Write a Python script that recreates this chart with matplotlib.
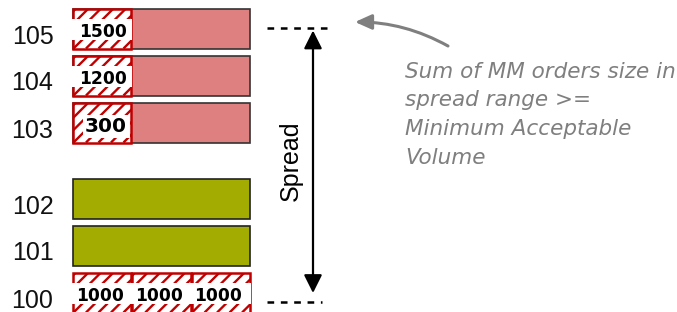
import matplotlib
matplotlib.use("Agg")
import numpy as np
import matplotlib.pyplot as plt
from matplotlib.patches import FancyArrowPatch

# ---- data ----
price_levels = [100, 101, 102, 103, 104, 105]
level_labels = ["100", "101", "102", "103", "104", "105"]
ask_levels = [103, 104, 105]
ask_mm_sizes = [300, 1200, 1500]
bid_levels = [101, 102]
bid_mm_level = 100
bid_mm_sizes = [1000, 1000, 1000]
spread_range = (100, 105)
spread_label = "Spread"
note_lines = ["Sum of MM orders size in", "spread range >=",
              "Minimum Acceptable", "Volume"]

# ---- style ----
ASK_COLOR = "#DF8080"
BID_COLOR = "#A3AC00"
MM_RED = "#C00000"
NOTE_GRAY = "#7F7F7F"

W, H = 677, 312
fig = plt.figure(figsize=(W / 100, H / 100), dpi=100)
ax = fig.add_axes([0, 0, 1, 1])
ax.set_xlim(0, W)
ax.set_ylim(H, 0)
ax.axis("off")

ROW_PITCH = 47
SPREAD_GAP = 29
BASE = 292.5
BAR_LEFT, BAR_W, BAR_H = 73, 177, 40
BOX_W = 59.3
STRIPE_STEP = 12.5


def ypos(p):
    return BASE - (p - 100) * ROW_PITCH - (SPREAD_GAP if p >= 103 else 0)


# level labels
for p, lab in zip(price_levels, level_labels):
    ax.text(32.5, ypos(p) + 15, lab, ha="center", va="baseline",
            fontsize=18, family="Liberation Sans", color="#111111")

# full-width bars
for p in ask_levels:
    ax.barh(ypos(p), BAR_W, left=BAR_LEFT, height=BAR_H, color=ASK_COLOR,
            edgecolor="#333333", linewidth=1.2)
for p in bid_levels:
    ax.barh(ypos(p), BAR_W, left=BAR_LEFT, height=BAR_H, color=BID_COLOR,
            edgecolor="#222222", linewidth=1.2)


def mm_box(p, i, size, dx=0.0):
    y = ypos(p)
    left = BAR_LEFT + i * BOX_W
    rect = ax.barh(y, BOX_W - 1, left=left, height=BAR_H, facecolor="white",
                   edgecolor=MM_RED, linewidth=1.8, zorder=2)[0]
    # diagonal red stripes clipped to the box
    for x0 in np.arange(left - BAR_H + 3, left + BOX_W, STRIPE_STEP):
        ln, = ax.plot([x0, x0 + BAR_H], [y + BAR_H / 2, y - BAR_H / 2],
                      color=MM_RED, lw=1.7, zorder=2.5,
                      solid_capstyle="butt")
        ln.set_clip_path(rect)
    lab = str(size)
    if len(lab) >= 4:
        ax.barh(y + 0.5, BOX_W + 1, left=left - 1, height=21, color="white",
                linewidth=0, zorder=3)
        ax.text(left + BOX_W / 2 + dx, y + 8.5, lab, ha="center",
                va="baseline", fontsize=12.3, fontweight="bold",
                family="DejaVu Sans", color="black", zorder=4)
    else:
        ax.text(left + BOX_W / 2 + dx, y + 9.5, lab, ha="center",
                va="baseline", fontsize=14.5, fontweight="bold",
                family="DejaVu Sans", color="black", zorder=4,
                bbox=dict(boxstyle="square,pad=0.12", facecolor="white",
                          edgecolor="none"))


for p, s in zip(ask_levels, ask_mm_sizes):
    mm_box(p, 0, s, dx=3.5 if s < 1000 else 0)
for i, s in enumerate(bid_mm_sizes):
    mm_box(bid_mm_level, i, s, dx=-3)

# spread markers
top = ypos(spread_range[1])
bot = ypos(spread_range[0])
ax.plot([267, 327], [top - 1, top - 1], color="black", lw=1.8,
        ls=(0, (2.67, 2.67)))
ax.plot([267, 322], [bot + 9.5, bot + 9.5], color="black", lw=1.8,
        ls=(0, (2.67, 2.67)))
ax.add_patch(FancyArrowPatch((313, bot + 0.5), (313, top + 2),
                             arrowstyle="<|-|>,head_length=11,head_width=5.5",
                             color="black", lw=1.6, shrinkA=0, shrinkB=0))
ax.text(291, (top + bot) / 2, spread_label, rotation=90, ha="center",
        va="center", fontsize=18, family="Liberation Sans", color="black")

# annotation
for i, line in enumerate(note_lines):
    ax.text(405, 78 + i * 28.5, line, ha="left", va="baseline",
            fontsize=15.5, style="italic", family="DejaVu Sans",
            color=NOTE_GRAY)
ax.add_patch(FancyArrowPatch((448, 46), (355, 22),
                             connectionstyle="arc3,rad=0.13",
                             arrowstyle="-|>,head_length=10,head_width=4.5",
                             color=NOTE_GRAY, lw=2.2, shrinkA=0, shrinkB=0))

fig.savefig("out.png", dpi=100)
